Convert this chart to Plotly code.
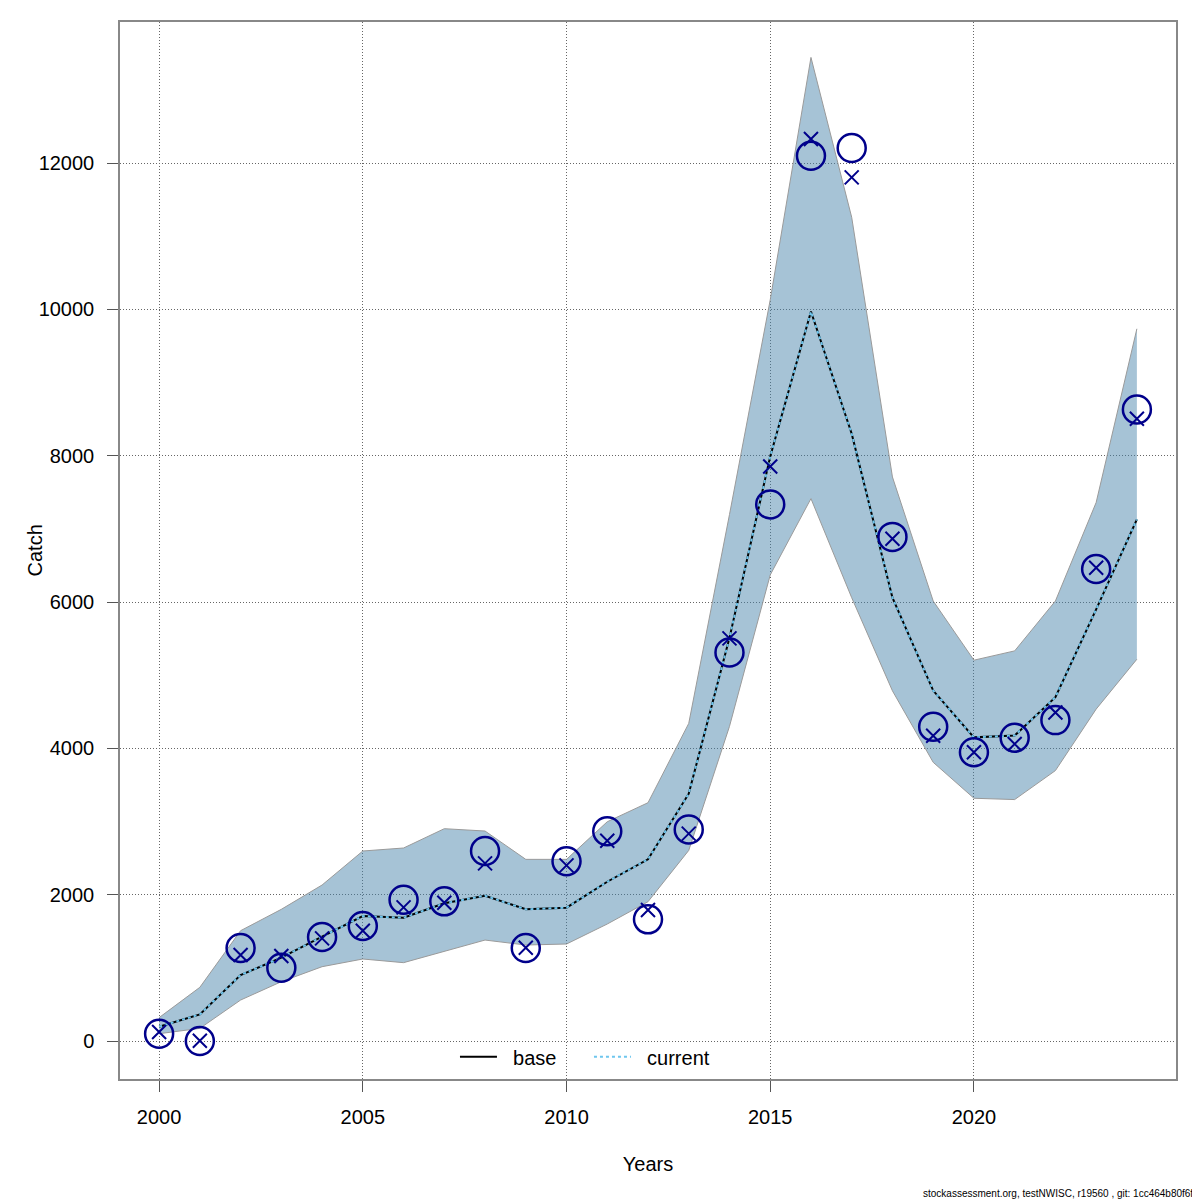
import plotly.graph_objects as go

years = list(range(2000, 2025))
observed = [100, 0, 1271, 1002, 1421, 1572, 1932, 1909, 2597, 1271, 2456, 2866, 1663,
            2890, 5310, 7333, 12100, 12205, 6890, 4294, 3946, 4145, 4386, 6450, 8632]
predicted = [123, 4, 1175, 1162, 1403, 1508, 1827, 1890, 2428, 1275, 2401, 2738, 1790,
             2835, 5503, 7852, 12328, 11804, 6864, 4173, 3946, 4059, 4491, 6468, 8505]
fit = [196, 364, 902, 1139, 1426, 1708, 1685, 1882, 1986, 1800, 1822, 2177, 2483,
       3380, 5510, 7990, 9970, 8300, 6060, 4790, 4150, 4175, 4700, 5900, 7130]
upper = [320, 734, 1508, 1800, 2132, 2597, 2638, 2902, 2870, 2483, 2483, 2997, 3257,
         4341, 7195, 10130, 13443, 11258, 7709, 6014, 5205, 5332, 6014, 7360, 9734]
lower = [100, 173, 560, 811, 1016, 1121, 1071, 1230, 1380, 1312, 1326, 1599, 1904,
         2605, 4300, 6370, 7413, 6059, 4786, 3809, 3318, 3300, 3696, 4536, 5218]
x_ticks = [2000, 2005, 2010, 2015, 2020]
y_ticks = [0, 2000, 4000, 6000, 8000, 10000, 12000]

FONT = "Liberation Sans, Arial, sans-serif"

fig = go.Figure()
fig.add_trace(go.Scatter(x=years, y=lower, mode="lines",
                         line=dict(color="#9a9a9a", width=1), showlegend=False,
                         hoverinfo="skip"))
fig.add_trace(go.Scatter(x=years, y=upper, mode="lines", fill="tonexty",
                         fillcolor="rgba(70,130,170,0.48)",
                         line=dict(color="#9a9a9a", width=1), showlegend=False,
                         hoverinfo="skip"))
fig.add_trace(go.Scatter(x=years, y=fit, mode="lines", name="  base",
                         line=dict(color="black", width=2)))
fig.add_trace(go.Scatter(x=years, y=fit, mode="lines", name="  current",
                         line=dict(color="#6ec6ee", width=2, dash="3px,3px")))
fig.add_trace(go.Scatter(x=years, y=observed, mode="markers", showlegend=False,
                         marker=dict(symbol="circle-open", size=28,
                                     line=dict(color="#00008B", width=2.5),
                                     color="#00008B")))
fig.add_trace(go.Scatter(x=years, y=predicted, mode="markers", showlegend=False,
                         marker=dict(symbol="x-thin-open", size=14,
                                     line=dict(color="#00008B", width=2),
                                     color="#00008B")))

fig.update_layout(
    width=1200, height=1200,
    margin=dict(l=112, r=32, t=14, b=129),
    paper_bgcolor="white", plot_bgcolor="white",
    font=dict(family=FONT, size=20, color="black"),
    legend=dict(orientation="h", x=0.3172, y=0.021, xanchor="left", yanchor="middle",
                bgcolor="rgba(0,0,0,0)", font=dict(size=20), itemwidth=37,
                traceorder="normal", tracegroupgap=0, entrywidth=82),
    annotations=[
        dict(text="stockassessment.org, testNWISC, r19560 , git: 1cc464b80f6f",
             xref="paper", yref="paper", x=1.018, y=-0.108,
             xanchor="right", yanchor="middle", showarrow=False,
             font=dict(size=10, family=FONT)),
        dict(text="Catch", xref="paper", yref="paper", x=-0.0805, y=0.5,
             xanchor="center", yanchor="middle", textangle=-90, showarrow=False,
             font=dict(size=20, family=FONT)),
    ],
)
fig.update_xaxes(range=[1999.04, 2024.96], tickvals=x_ticks, ticks="outside",
                 ticklen=11, tickcolor="#555", showline=True, linecolor="#888",
                 linewidth=1.5, mirror=True, showgrid=True, gridcolor="#666",
                 griddash="1px,2px", gridwidth=1, zeroline=False, ticklabelstandoff=8,
                 automargin=False,
                 title=dict(text="Years", standoff=30, font=dict(size=20)))
fig.update_yaxes(range=[-519, 13927], tickvals=y_ticks, tickformat="d", ticks="outside",
                 ticklen=11, tickcolor="#555", showline=True, linecolor="#888",
                 linewidth=1.5, mirror=True, showgrid=True, gridcolor="#666",
                 griddash="1px,2px", gridwidth=1, zeroline=False, ticklabelstandoff=9,
                 automargin=False)

fig.write_html("out.html")
